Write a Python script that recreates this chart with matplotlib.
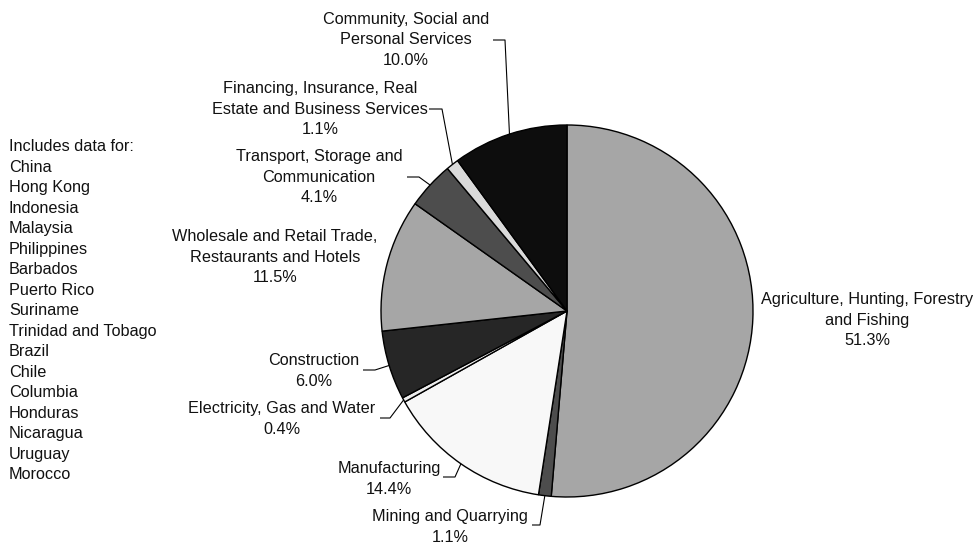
import numpy as np
import matplotlib
matplotlib.use("Agg")
import matplotlib.pyplot as plt

plt.rcParams["font.family"] = ["Liberation Sans", "DejaVu Sans"]

# Share of employment by sector (clockwise from 12 o'clock)
sectors = [
    "Agriculture, Hunting, Forestry\nand Fishing",
    "Mining and Quarrying",
    "Manufacturing",
    "Electricity, Gas and Water",
    "Construction",
    "Wholesale and Retail Trade,\nRestaurants and Hotels",
    "Transport, Storage and\nCommunication",
    "Financing, Insurance, Real\nEstate and Business Services",
    "Community, Social and\nPersonal Services",
]
shares = [51.3, 1.1, 14.4, 0.4, 6.0, 11.5, 4.1, 1.1, 10.0]
colors = ["#a6a6a6", "#4d4d4d", "#f8f8f8", "#eeeeee", "#262626",
          "#a6a6a6", "#4d4d4d", "#d9d9d9", "#0d0d0d"]

countries = ["China", "Hong Kong", "Indonesia", "Malaysia", "Philippines",
             "Barbados", "Puerto Rico", "Suriname", "Trinidad and Tobago",
             "Brazil", "Chile", "Columbia", "Honduras", "Nicaragua",
             "Uruguay", "Morocco"]

W, H = 978, 544
FS = 11.7
fig = plt.figure(figsize=(W / 100, H / 100), dpi=100)
ax = fig.add_axes([0, 0, 1, 1])

cx, cy, R = 567, H - 311, 186
wedges, _ = ax.pie(shares, colors=colors, startangle=90, counterclock=False,
                   center=(cx, cy), radius=R,
                   wedgeprops=dict(edgecolor="black", linewidth=1.0))
ax.set_xlim(0, W)
ax.set_ylim(0, H)
ax.set_aspect("equal")
ax.axis("off")

# label layout in pixels from top-left:
# (text centre x, text block centre y, leader y, leader start x, elbow x)
layout = [
    (867, 320, None, None, None),
    (450, 527, 525, 532, 540),
    (389, 479, 477, 443, 455),
    (282, 419, 418, 380, 390),
    (314, 371, 370, 363, 375),
    (275, 257, None, None, None),
    (319, 177, 177, 407, 419),
    (320, 109, 109, 429, 442),
    (406, 40, 40, 493, 505),
]

for w, name, val, (tx, ty, ly, lx, ex) in zip(wedges, sectors, shares, layout):
    ax.text(tx, H - ty, f"{name}\n{val:.1f}%", ha="center", va="center",
            ma="center", fontsize=FS, color="#111111", linespacing=1.47)
    if lx is not None:
        mid = np.deg2rad((w.theta1 + w.theta2) / 2)
        px = cx + R * np.cos(mid)
        py = cy + R * np.sin(mid)
        ax.plot([lx, ex, px], [H - ly, H - ly, py], color="black",
                linewidth=0.8, solid_capstyle="butt")

ax.text(9, H - 139, "Includes data for:\n" + "\n".join(countries),
        ha="left", va="top", fontsize=FS, color="#111111",
        linespacing=1.46)

fig.savefig("out.png", dpi=100)
